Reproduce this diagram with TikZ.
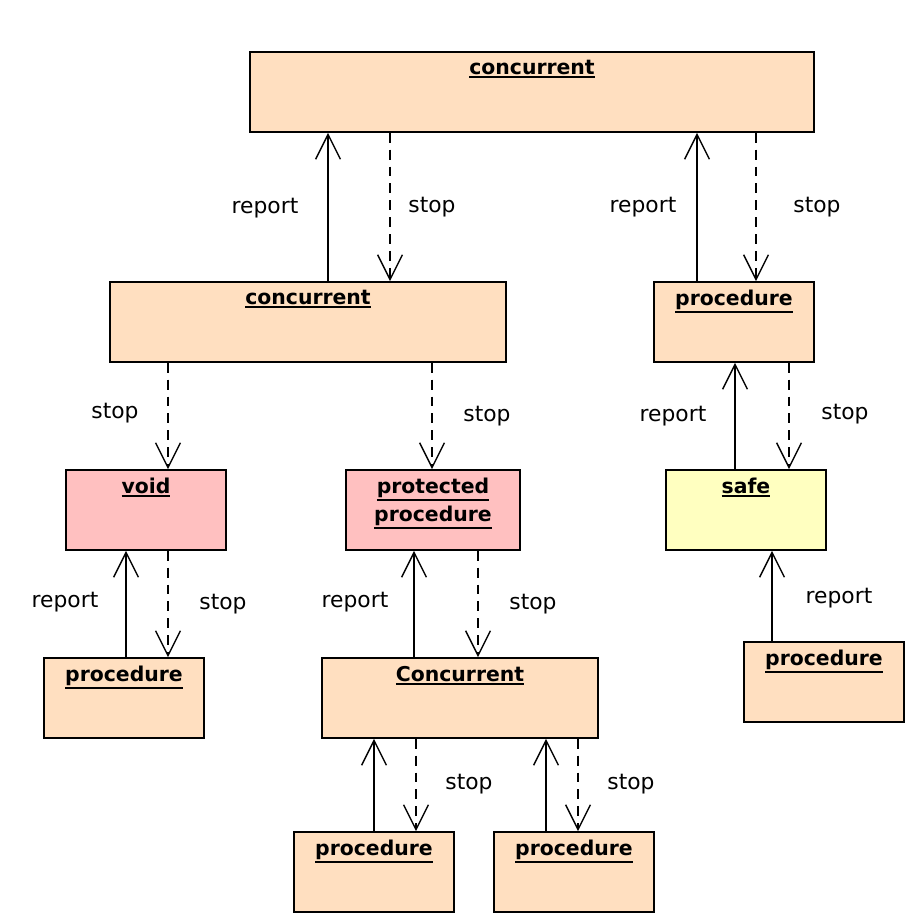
\documentclass[tikz,border=0pt]{standalone}
\usepackage{fontspec}
\setmainfont{DejaVu Sans}
\usetikzlibrary{arrows.meta}
\definecolor{peach}{HTML}{FFDFC0}
\definecolor{rose}{HTML}{FFC0C0}
\definecolor{lemon}{HTML}{FFFFC0}
\tikzset{
  box/.style={draw, line width=1.2pt, fill=peach, minimum height=2cm, inner sep=0pt},
  title/.style={anchor=north, inner sep=0pt, yshift=-6pt, font=\fontsize{14.5}{17}\selectfont\bfseries, align=center},
  msg/.style={font=\fontsize{15.5}{18}\selectfont},
  report/.style={line width=1pt, -{Straight Barb[length=0.62cm, width=0.62cm, line width=1pt]}},
  stop/.style={report, dash pattern=on 7pt off 5pt}
}
\newcommand{\ul}[1]{\leavevmode\vtop{\hbox{#1}\kern1.2pt\hrule height 1.3pt}}
\begin{document}
\begin{tikzpicture}[x=0.025cm, y=-0.025cm]
  \useasboundingbox (0,0) rectangle (922,920);
  % objects
  \node[box, minimum width=14.1cm] (tc) at (532,92) {};
  \node[title] (tcl) at (tc.north) {\ul{concurrent}};
  \node[box, minimum width=9.9cm] (mc) at (308,322) {};
  \node[title] (mcl) at (mc.north) {\ul{concurrent}};
  \node[box, minimum width=4cm] (pr) at (734,322) {};
  \node[title] (prl) at (pr.north) {\ul{procedure}};
  \node[box, fill=rose, minimum width=4cm] (vd) at (146,510) {};
  \node[title] (vdl) at (vd.north) {\ul{void}};
  \node[box, fill=rose, minimum width=4.35cm] (pp) at (433,510) {};
  \node[title] (ppl) at (pp.north) {\ul{protected}\\[3pt]\ul{procedure}};
  \node[box, fill=lemon, minimum width=4cm] (sf) at (746,510) {};
  \node[title] (sfl) at (sf.north) {\ul{safe}};
  \node[box, minimum width=4cm] (pl) at (124,698) {};
  \node[title] (pll) at (pl.north) {\ul{procedure}};
  \node[box, minimum width=6.9cm] (cc) at (460,698) {};
  \node[title] (ccl) at (cc.north) {\ul{Concurrent}};
  \node[box, minimum width=4cm] (prr) at (824,682) {};
  \node[title] (prrl) at (prr.north) {\ul{procedure}};
  \node[box, minimum width=4cm] (pb1) at (374,872) {};
  \node[title] (pb1l) at (pb1.north) {\ul{procedure}};
  \node[box, minimum width=4cm] (pb2) at (574,872) {};
  \node[title] (pb2l) at (pb2.north) {\ul{procedure}};
  % messages
  \draw[report] (mc.north -| 328,0) -- (tc.south -| 328,0);
  \draw[stop] (tc.south -| 390,0) -- (mc.north -| 390,0);
  \node[msg] (m1) at (265,208) {report};
  \node[msg] (m2) at (432,207) {stop};
  \draw[report] (pr.north -| 697,0) -- (tc.south -| 697,0);
  \draw[stop] (tc.south -| 756,0) -- (pr.north -| 756,0);
  \node[msg] (m3) at (643,207) {report};
  \node[msg] (m4) at (817,207) {stop};
  \draw[stop] (mc.south -| 168,0) -- (vd.north -| 168,0);
  \node[msg] (m5) at (115,413) {stop};
  \draw[stop] (mc.south -| 432,0) -- (pp.north -| 432,0);
  \node[msg] (m6) at (487,416) {stop};
  \draw[report] (sf.north -| 735,0) -- (pr.south -| 735,0);
  \draw[stop] (pr.south -| 789,0) -- (sf.north -| 789,0);
  \node[msg] (m7) at (673,416) {report};
  \node[msg] (m8) at (845,414) {stop};
  \draw[report] (pl.north -| 126,0) -- (vd.south -| 126,0);
  \draw[stop] (vd.south -| 168,0) -- (pl.north -| 168,0);
  \node[msg] (m9) at (65,602) {report};
  \node[msg] (m10) at (223,604) {stop};
  \draw[report] (cc.north -| 414,0) -- (pp.south -| 414,0);
  \draw[stop] (pp.south -| 478,0) -- (cc.north -| 478,0);
  \node[msg] (m11) at (355,602) {report};
  \node[msg] (m12) at (533,604) {stop};
  \draw[report] (prr.north -| 772,0) -- (sf.south -| 772,0);
  \node[msg] (m13) at (839,598) {report};
  \draw[report] (pb1.north -| 374,0) -- (cc.south -| 374,0);
  \draw[stop] (cc.south -| 416,0) -- (pb1.north -| 416,0);
  \node[msg] (m14) at (469,784) {stop};
  \draw[report] (pb2.north -| 546,0) -- (cc.south -| 546,0);
  \draw[stop] (cc.south -| 578,0) -- (pb2.north -| 578,0);
  \node[msg] (m15) at (631,784) {stop};
\end{tikzpicture}
\end{document}
